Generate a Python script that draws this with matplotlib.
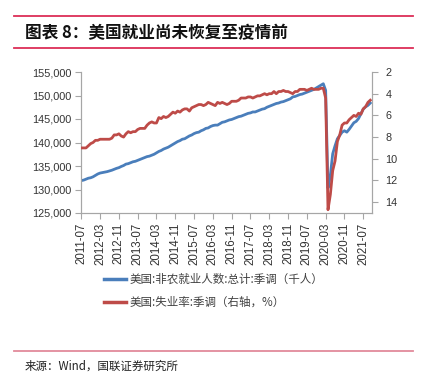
import matplotlib
matplotlib.use("Agg")
import matplotlib.pyplot as plt
from matplotlib.lines import Line2D
import numpy as np

# ---------------- data ----------------
start_month = "2011-07"
n_months = 124  # 2011-07 .. 2021-10

payrolls = [
    # 2011 Jul-Dec
    131900, 132000, 132200, 132400, 132500, 132700,
    # 2012
    133000, 133300, 133500, 133600, 133700, 133800, 133950, 134100, 134300, 134500, 134650, 134900,
    # 2013
    135100, 135400, 135500, 135700, 135900, 136000, 136200, 136400, 136600, 136800, 137000, 137100,
    # 2014
    137300, 137500, 137800, 138100, 138300, 138600, 138800, 139000, 139300, 139600, 139900, 140200,
    # 2015
    140400, 140700, 140800, 141100, 141400, 141600, 141900, 142100, 142200, 142500, 142700, 143000,
    # 2016
    143100, 143400, 143600, 143700, 143700, 144000, 144300, 144400, 144600, 144800, 144900, 145100,
    # 2017
    145300, 145500, 145600, 145800, 146000, 146200, 146300, 146500, 146500, 146700, 146900, 147100,
    # 2018
    147200, 147500, 147700, 147900, 148100, 148300, 148400, 148600, 148700, 148900, 149100, 149300,
    # 2019
    149700, 149800, 150000, 150200, 150300, 150500, 150700, 150900, 151100, 151300, 151600, 151900,
    # 2020
    152200, 152500, 151100, 130300, 133000, 137600, 139300, 140800, 141500, 142200, 142500, 142200,
    # 2021 Jan-Oct
    142800, 143500, 144200, 144500, 145100, 146100, 147100, 147600, 147900, 148400,
]

unemployment = [
    # 2011 Jul-Dec
    9.0, 9.0, 9.0, 8.8, 8.6, 8.5,
    # 2012
    8.3, 8.3, 8.2, 8.2, 8.2, 8.2, 8.2, 8.1, 7.8, 7.8, 7.7, 7.9,
    # 2013
    8.0, 7.7, 7.5, 7.6, 7.5, 7.5, 7.3, 7.2, 7.2, 7.2, 6.9, 6.7,
    # 2014
    6.6, 6.7, 6.7, 6.2, 6.3, 6.1, 6.2, 6.1, 5.9, 5.7, 5.8, 5.6,
    # 2015
    5.7, 5.5, 5.4, 5.4, 5.6, 5.3, 5.2, 5.1, 5.0, 5.0, 5.1, 5.0,
    # 2016
    4.8, 4.9, 5.0, 5.1, 4.8, 4.9, 4.8, 4.9, 5.0, 4.9, 4.7, 4.7,
    # 2017
    4.7, 4.6, 4.4, 4.4, 4.4, 4.3, 4.3, 4.4, 4.3, 4.2, 4.2, 4.1,
    # 2018
    4.0, 4.1, 4.0, 4.0, 3.8, 4.0, 3.8, 3.8, 3.7, 3.8, 3.8, 3.9,
    # 2019
    4.0, 3.8, 3.8, 3.6, 3.6, 3.6, 3.7, 3.6, 3.5, 3.6, 3.6, 3.6,
    # 2020
    3.5, 3.5, 4.4, 14.7, 13.3, 11.1, 10.2, 8.4, 7.8, 6.9, 6.7, 6.7,
    # 2021 Jan-Oct
    6.4, 6.2, 6.0, 6.1, 5.8, 5.9, 5.4, 5.2, 4.8, 4.6,
]

left_ticks = [125000, 130000, 135000, 140000, 145000, 150000, 155000]
right_ticks = [2, 4, 6, 8, 10, 12, 14]

title = "图表 8：美国就业尚未恢复至疫情前"
label_payrolls = "美国:非农就业人数:总计:季调（千人）"
label_unemp = "美国:失业率:季调（右轴，%）"
source = "来源：Wind，国联证券研究所"

months = np.arange(np.datetime64(start_month, "M"), np.datetime64(start_month, "M") + n_months)
month_labels = [str(m) for m in months]
x = np.arange(n_months)

# ---------------- style ----------------
W, H = 423, 374
CJK = ["Noto Sans CJK SC", "DejaVu Sans"]
NUM = ["Liberation Sans", "DejaVu Sans"]
plt.rcParams["font.family"] = CJK

blue = "#4a7ebb"
red = "#be4b48"
spine_c = "#a6a6a6"
text_c = "#333333"

fig = plt.figure(figsize=(W / 100, H / 100), dpi=100)

def fx(px):
    return px / W

def fy(py):
    return 1 - py / H

# decorative rules and texts
fig.add_artist(Line2D([fx(14), fx(413)], [fy(16), fy(16)], color="#dc2e57", lw=1.3))
fig.add_artist(Line2D([fx(14), fx(413)], [fy(48), fy(48)], color="#dc2e57", lw=1.3))
fig.add_artist(Line2D([fx(14), fx(413)], [fy(351), fy(351)], color="#e28a9b", lw=1.3))
fig.text(fx(25), fy(33), title, fontsize=12, fontweight="bold", va="center", ha="left",
         color="#111111", style="italic")
fig.text(fx(25), fy(366), source, fontsize=8.3, va="center", ha="left", color="#222222")

# axes
ax = fig.add_axes([fx(81.3), fy(213), fx(371.7) - fx(81.3), fy(72) - fy(213)])
ax2 = ax.twinx()

ax.plot(x, payrolls, color=blue, lw=2.0, solid_joinstyle="round", zorder=3)
ax2.plot(x, unemployment, color=red, lw=2.0, solid_joinstyle="round", zorder=3)

ax.set_xlim(0, n_months - 0.4)
ax.set_ylim(125000, 155000)
ax2.set_ylim(15, 2)

ax.set_yticks(left_ticks)
ax.set_yticklabels([f"{v:,}" for v in left_ticks], family=NUM, fontsize=7.8, color=text_c)
ax2.set_yticks(right_ticks)
ax2.set_yticklabels([str(v) for v in right_ticks], family=NUM, fontsize=7.8, color=text_c)

tick_idx = list(range(0, n_months, 8))
ax.set_xticks(tick_idx)
ax.set_xticklabels([month_labels[i] for i in tick_idx], rotation=90, family=NUM,
                   fontsize=8.3, color=text_c)

for a in (ax, ax2):
    a.spines["top"].set_visible(False)
    for s in ("left", "right", "bottom"):
        a.spines[s].set_color(spine_c)
        a.spines[s].set_linewidth(0.8)
    a.tick_params(axis="both", direction="out", length=4, width=0.8, color=spine_c, pad=2)
    a.set_facecolor("none")

ax.tick_params(axis="x", pad=3)
ax2.tick_params(axis="y", pad=6)
ax.tick_params(axis="y", pad=3)

# legend
handles = [Line2D([], [], color=blue, lw=2.5), Line2D([], [], color=red, lw=2.5)]
fig.legend(handles, [label_payrolls, label_unemp], loc="upper left",
           bbox_to_anchor=(fx(104), fy(273)), frameon=False, fontsize=8.3,
           handlelength=1.9, handletextpad=0.35, labelspacing=0.85,
           borderpad=0, borderaxespad=0, labelcolor="#404040")

fig.savefig("out.png", dpi=100)
